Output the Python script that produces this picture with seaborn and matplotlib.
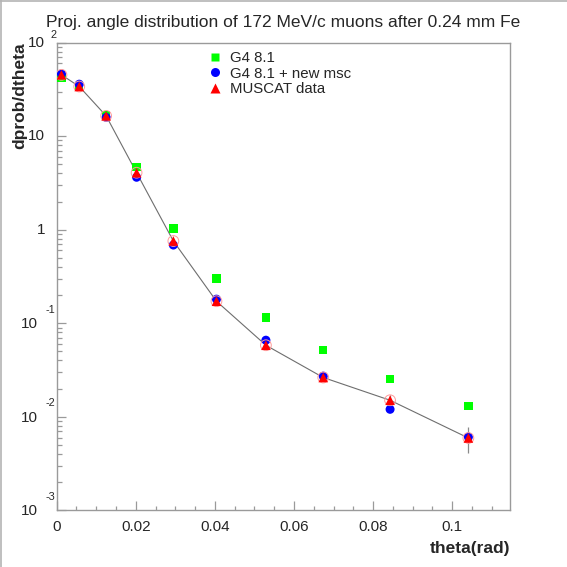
import numpy as np
import pandas as pd
import matplotlib
matplotlib.use("Agg")
import matplotlib.pyplot as plt
from matplotlib.lines import Line2D
import seaborn as sns

# ---- data ----
theta = [0.0012, 0.0057, 0.0125, 0.0202, 0.0295, 0.0404, 0.0529, 0.0674, 0.0843, 0.1041]
g4_81 = [41.8, 34.0, 16.9, 4.66, 1.035, 0.302, 0.115, 0.0515, 0.0252, 0.01306]
g4_new_msc = [46.4, 36.0, 15.9, 3.64, 0.686, 0.181, 0.0659, 0.0272, 0.01202, 0.00608]
muscat = [45.3, 34.0, 16.5, 4.07, 0.757, 0.172, 0.0582, 0.0263, 0.01502, 0.00593]
muscat_err = [0.6, 0.5, 0.3, 0.1, 0.03, 0.008, 0.006, 0.002, 0.0022, 0.0018]

series_names = ["G4 8.1", "G4 8.1 + new msc", "MUSCAT data"]
title = "Proj. angle distribution of 172 MeV/c muons after 0.24 mm Fe"
xlabel = "theta(rad)"
ylabel = "dprob/dtheta"
xticks = [0, 0.02, 0.04, 0.06, 0.08, 0.1]
xtick_labels = ["0", "0.02", "0.04", "0.06", "0.08", "0.1"]
ytick_vals = [1e-3, 1e-2, 1e-1, 1, 10, 100]
ytick_base = ["10", "10", "10", "1", "10", "10"]
ytick_exp = ["-3", "-2", "-1", "", "", "2"]

sns.set_style("white")
plt.rcParams["font.family"] = ["Liberation Sans", "DejaVu Sans"]

fig = plt.figure(figsize=(5.67, 5.67), dpi=100)
ax = fig.add_axes([0.1, 0.1, 0.8, 0.8247])

df = pd.DataFrame({"theta": theta, "g4": g4_81, "msc": g4_new_msc,
                   "data": muscat, "err": muscat_err})

# connecting line through data
sns.lineplot(data=df, x="theta", y="data", color="#6e6e6e", lw=0.8,
             sort=False, estimator=None, ax=ax, zorder=2)
# error bars
ax.errorbar(df["theta"], df["data"], yerr=df["err"], fmt="none",
            ecolor="#8a8a8a", elinewidth=0.9, capsize=0, zorder=1)

sns.scatterplot(data=df, x="theta", y="g4", marker="s", color="#00ff00",
                s=36, edgecolor="none", linewidth=0, ax=ax, zorder=3)
sns.scatterplot(data=df, x="theta", y="msc", marker="o", color="#0000ff",
                s=42, edgecolor="none", linewidth=0, ax=ax, zorder=4)
sns.scatterplot(data=df, x="theta", y="data", marker="o", facecolor="none",
                edgecolor="#ff9a9a", s=60, linewidth=0.7, ax=ax, zorder=5)
sns.scatterplot(data=df, x="theta", y="data", marker="^", color="#ff0000",
                s=48, edgecolor="none", linewidth=0, ax=ax, zorder=6)

ax.set_yscale("log")
ax.set_xlim(0, 0.1147)
ax.set_ylim(1e-3, 1e2)

for sp in ax.spines.values():
    sp.set_color("#9a9a9a")
    sp.set_linewidth(1.0)

ax.set_xticks(xticks)
ax.set_xticklabels(xtick_labels)
ax.xaxis.set_minor_locator(matplotlib.ticker.MultipleLocator(0.005))
ax.tick_params(axis="x", which="major", direction="in", length=6.3, width=0.9,
               color="#9a9a9a", labelsize=11, pad=7, bottom=True, top=False)
ax.tick_params(axis="x", which="minor", direction="in", length=3.2, width=0.9,
               color="#9a9a9a", bottom=True, top=False)

ax.set_yticks(ytick_vals)
ax.set_yticklabels([""] * len(ytick_vals))
ax.yaxis.set_minor_locator(matplotlib.ticker.LogLocator(base=10, subs=np.arange(2, 10)))
ax.yaxis.set_minor_formatter(matplotlib.ticker.NullFormatter())
ax.tick_params(axis="y", which="major", direction="in", length=6.7, width=0.9,
               color="#9a9a9a", left=True, right=False)
ax.tick_params(axis="y", which="minor", direction="in", length=3.6, width=0.9,
               color="#9a9a9a", left=True, right=False)

ytr = ax.get_yaxis_transform()
for v, b, e in zip(ytick_vals, ytick_base, ytick_exp):
    if e == "":
        ax.annotate(b, xy=(0, v), xycoords=ytr, xytext=(-8.4, 0),
                    textcoords="offset points", ha="right", va="center",
                    fontsize=11, annotation_clip=False)
    elif e == "2":
        ax.annotate(b, xy=(0, v), xycoords=ytr, xytext=(-8.4, 0),
                    textcoords="offset points", ha="right", va="center",
                    fontsize=11, annotation_clip=False)
        ax.annotate(e, xy=(0, v), xycoords=ytr, xytext=(-4.8, 5.3),
                    textcoords="offset points", ha="left", va="center",
                    fontsize=7.8, annotation_clip=False)
    else:
        ax.annotate(b, xy=(0, v), xycoords=ytr, xytext=(-13.7, -0.7),
                    textcoords="offset points", ha="right", va="center",
                    fontsize=11, annotation_clip=False)
        ax.annotate(e, xy=(0, v), xycoords=ytr, xytext=(-7.7, 9.6),
                    textcoords="offset points", ha="left", va="center",
                    fontsize=7.8, annotation_clip=False)

ax.set_xlabel(xlabel, fontsize=12.5, fontweight="bold", ha="right", va="top")
ax.xaxis.set_label_coords(1.0, -0.066)
ax.set_ylabel(ylabel, fontsize=12.5, fontweight="bold", loc="top")
ax.yaxis.set_label_coords(-0.066, 1.0)

fig.text(0.5, 1 - 26.7 / 567, title, ha="center", va="baseline", fontsize=12.5)

handles = [
    Line2D([], [], marker="s", color="#00ff00", ls="none", markersize=6.2, mec="none"),
    Line2D([], [], marker="o", color="#0000ff", ls="none", markersize=6.5, mec="none"),
    Line2D([], [], marker="^", color="#ff0000", ls="none", markersize=7, mec="none"),
]
ax.legend(handles, series_names, loc="upper left",
          bbox_to_anchor=(207 / 567, 1 - 51 / 567), bbox_transform=fig.transFigure,
          frameon=False, fontsize=10.8, handlelength=1.0, handletextpad=0.5,
          labelspacing=0.1, borderaxespad=0, borderpad=0)

# canvas bevel lines (left and top)
fig.add_artist(Line2D([0.0015, 0.0015], [0, 1], transform=fig.transFigure,
                      color="#b4b4b4", lw=1.2))
fig.add_artist(Line2D([0, 1], [0.9985, 0.9985], transform=fig.transFigure,
                      color="#b4b4b4", lw=1.2))

fig.savefig("out.png", dpi=100, facecolor="white")
